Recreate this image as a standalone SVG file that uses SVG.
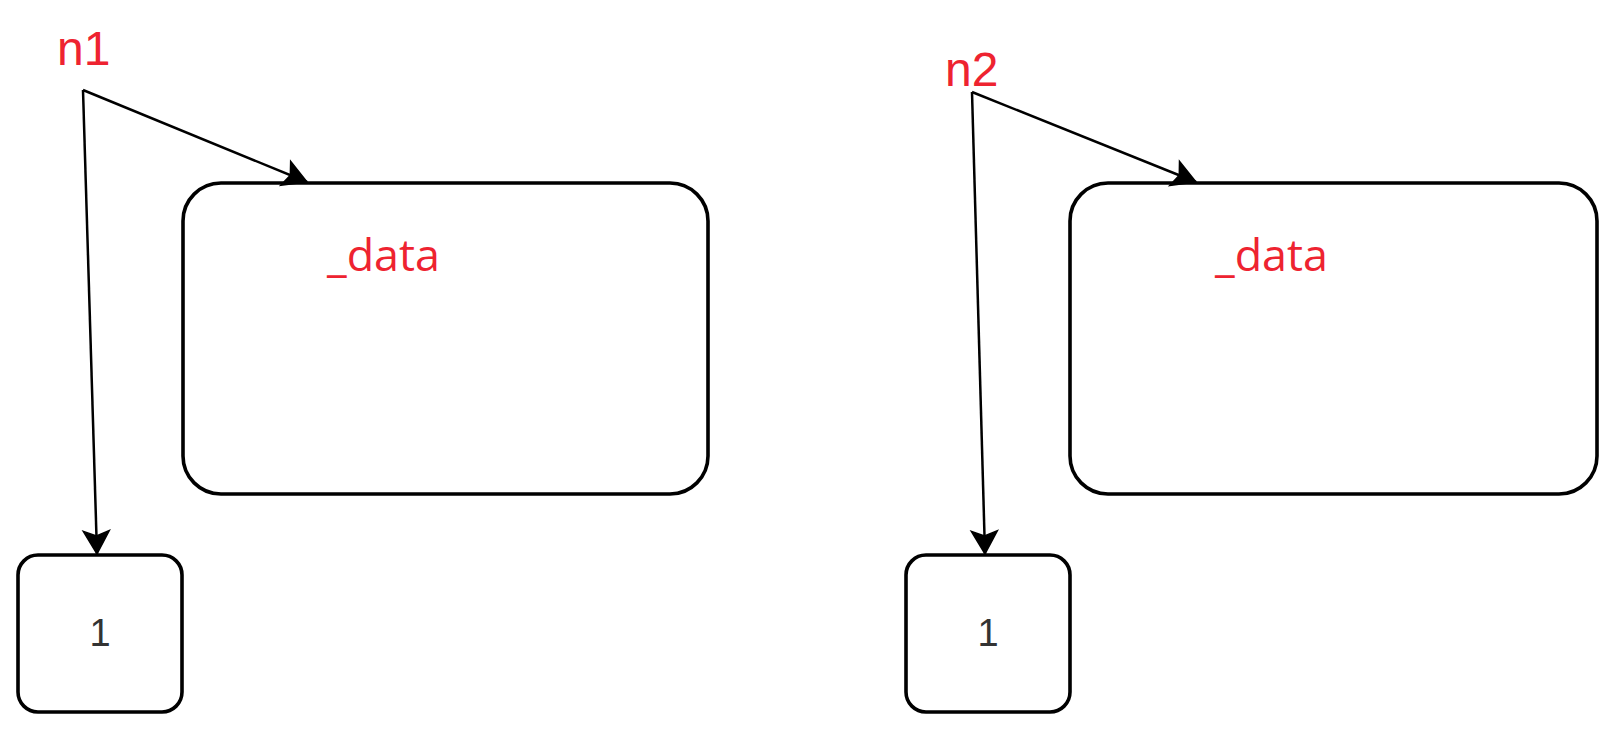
<svg xmlns="http://www.w3.org/2000/svg" width="1613" height="739" viewBox="0 0 1613 739">
  <style>
    .box { fill: #ffffff; stroke: #000000; stroke-width: 3.6; }
    .edge { fill: none; stroke: #000000; stroke-width: 2.5; stroke-linejoin: miter; }
    .var { font-family: "Liberation Sans", Arial, sans-serif; font-size: 48px; fill: #ee2330; }
    .field { font-family: "Open Sans", "Noto Sans", sans-serif; font-size: 44px; fill: #ee2330; }
    .val { font-family: "Liberation Sans", Arial, sans-serif; font-size: 38px; fill: #333333; text-anchor: middle; }
  </style>
  <defs>
    <marker id="arrow" markerUnits="userSpaceOnUse" markerWidth="28" markerHeight="28" refX="25" refY="14" orient="auto" overflow="visible">
      <path d="M25,14 L2,1 L7,14 L2,27 Z" fill="#000000" stroke="#000000" stroke-width="1.5"/>
    </marker>
  </defs>
  <rect width="1613" height="739" fill="#ffffff"/>

  <g id="obj1">
    <rect class="box" x="183" y="183" width="525" height="311" rx="38" ry="38"/>
    <text class="field" x="327" y="271" textLength="113" lengthAdjust="spacingAndGlyphs">_data</text>
  </g>
  <g id="val1">
    <rect class="box" x="18" y="555" width="164" height="157" rx="20" ry="20"/>
    <text class="val" x="100" y="646">1</text>
  </g>
  <g id="n1">
    <text class="var" x="57" y="65">n1</text>
  </g>

  <g id="obj2">
    <rect class="box" x="1070" y="183" width="527" height="311" rx="38" ry="38"/>
    <text class="field" x="1215" y="271" textLength="113" lengthAdjust="spacingAndGlyphs">_data</text>
  </g>
  <g id="val2">
    <rect class="box" x="906" y="555" width="164" height="157" rx="20" ry="20"/>
    <text class="val" x="988" y="646">1</text>
  </g>
  <g id="n2">
    <text class="var" x="945" y="86">n2</text>
  </g>

  <g id="connectors">
    <path class="edge" d="M83,90 L307,182" marker-end="url(#arrow)"/>
    <path class="edge" d="M83,90 L97,554" marker-end="url(#arrow)"/>
    <path class="edge" d="M972,92 L1196,182" marker-end="url(#arrow)"/>
    <path class="edge" d="M972,92 L985,554" marker-end="url(#arrow)"/>
  </g>
</svg>
